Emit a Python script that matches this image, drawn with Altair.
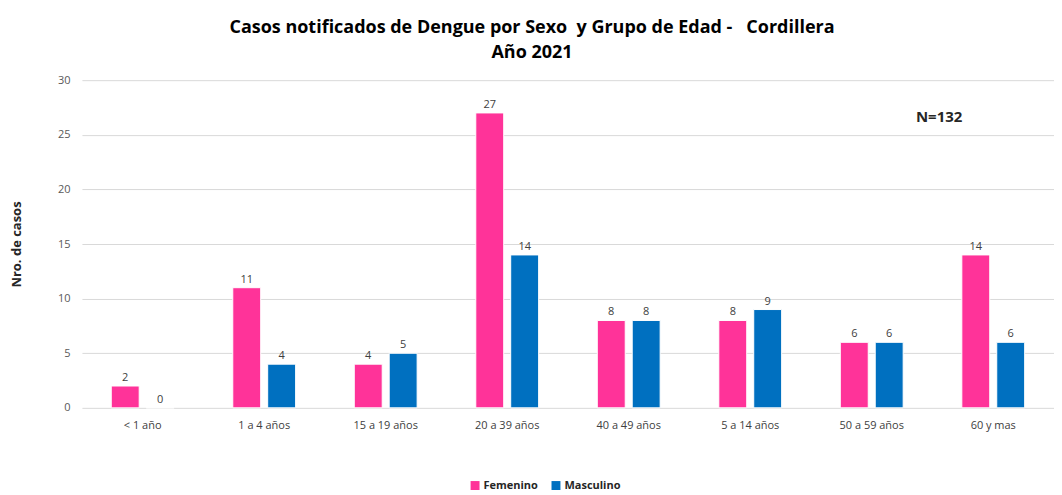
import altair as alt
import pandas as pd

categories = ["< 1 año", "1 a 4 años", "15 a 19 años", "20 a 39 años",
              "40 a 49 años", "5 a 14 años", "50 a 59 años", "60 y mas"]
femenino = [2, 11, 4, 27, 8, 8, 6, 14]
masculino = [0, 4, 5, 14, 8, 9, 6, 6]
series = ["Femenino", "Masculino"]
colors = ["#FF3399", "#0070C0"]

rows = []
for c, f, m in zip(categories, femenino, masculino):
    rows.append({"grupo": c, "sexo": "Femenino", "casos": f})
    rows.append({"grupo": c, "sexo": "Masculino", "casos": m})
df = pd.DataFrame(rows)

FONT = "Open Sans"
NB = "\u00a0"

base = alt.Chart(df).encode(
    x=alt.X("grupo:N", sort=categories,
            scale=alt.Scale(paddingInner=0, paddingOuter=0),
            axis=alt.Axis(title=None, labelAngle=0, ticks=False, domain=False,
                          labelFont=FONT, labelFontSize=11, labelColor="#404040",
                          labelPadding=12)),
    xOffset=alt.XOffset("sexo:N", sort=series,
                        scale=alt.Scale(paddingInner=0.2, paddingOuter=0.84)),
)

bars = base.mark_bar(stroke="white", strokeWidth=1).encode(
    y=alt.Y("casos:Q", scale=alt.Scale(domain=[0, 30]),
            axis=alt.Axis(title="Nro. de casos", values=[0, 5, 10, 15, 20, 25, 30],
                          ticks=False, domain=False, gridColor="#D9D9D9",
                          labelFont=FONT, labelFontSize=11, labelColor="#595959",
                          labelPadding=12, titleFont=FONT, titleFontSize=13,
                          titleFontWeight="bold", titleColor="#262626",
                          titleX=-58, titleY=164, titleAngle=-90)),
    color=alt.Color("sexo:N", sort=series,
                    scale=alt.Scale(domain=series, range=colors),
                    legend=alt.Legend(title=None, orient="none", direction="horizontal",
                                      legendX=388, legendY=400, symbolType="square",
                                      symbolSize=80, symbolStrokeWidth=0,
                                      labelFont=FONT, labelFontSize=11,
                                      labelFontWeight="bold", labelColor="#262626",
                                      columnPadding=12, labelOffset=3)),
)

labels = base.mark_text(dy=-8, font=FONT, fontSize=11, color="#404040").encode(
    y=alt.Y("casos:Q"),
    text=alt.Text("casos:Q"),
)

note = alt.Chart(pd.DataFrame({"t": ["N=132"]})).mark_text(
    font=FONT, fontSize=15, fontWeight="bold", color="#262626"
).encode(x=alt.value(858), y=alt.value(37), text="t:N")

title_line1 = ("Casos notificados de Dengue por Sexo" + NB + NB + "y Grupo de Edad -"
               + NB + NB + NB + "Cordillera")

chart = alt.layer(bars, labels, note).properties(
    width=973, height=328,
    padding={"left": 74, "top": 72, "right": 0, "bottom": 86},
    autosize=alt.AutoSizeParams(type="none"),
    title=alt.TitleParams(
        text=[title_line1, "Año 2021"],
        font=FONT, fontSize=18, fontWeight="bold", color="#000000",
        anchor="middle", dx=-36, offset=12, lineHeight=25),
).configure_view(stroke=None)

chart.save("out.html", embed_options={"renderer": "svg", "actions": False})
